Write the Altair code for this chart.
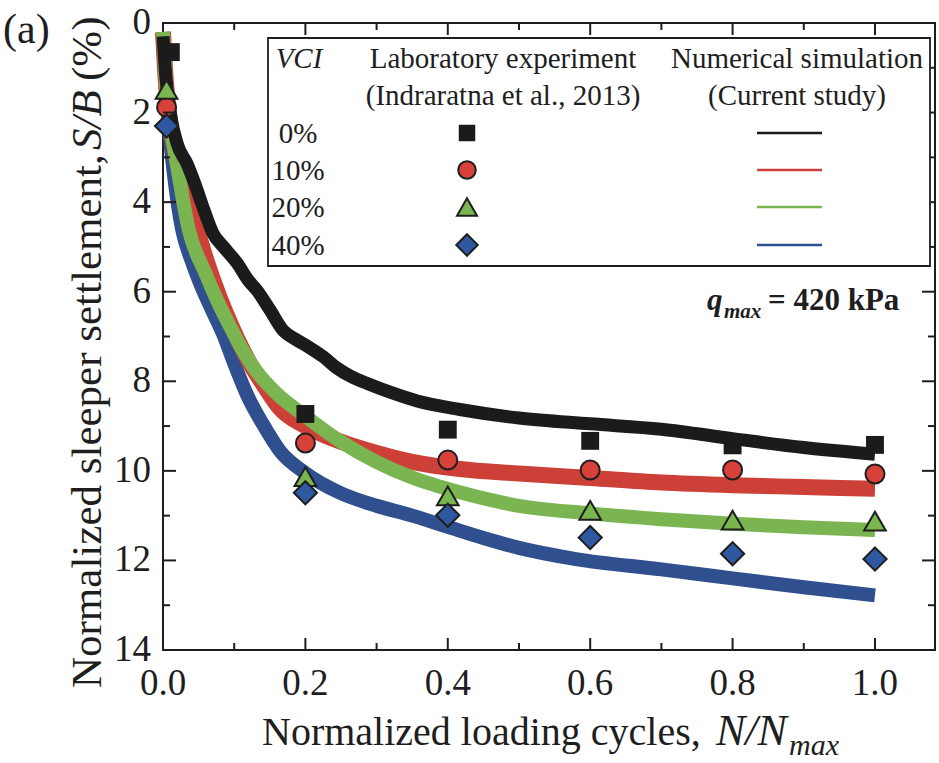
import altair as alt
import pandas as pd

FONT = "Liberation Serif, Times New Roman, serif"
INK = "#1e1e1e"

# ---------------- data ----------------
# Numerical simulation (Current study)
x_black = [0.0, 0.004, 0.01, 0.02, 0.034, 0.045, 0.057, 0.07, 0.085, 0.104, 0.12, 0.132, 0.15, 0.169,
           0.185, 0.206, 0.225, 0.244, 0.265, 0.287, 0.32, 0.357, 0.417, 0.5, 0.6, 0.7, 0.8, 0.9, 1.0]
y_black = [0.3, 1.2, 2.0, 2.7, 3.15, 3.6, 4.15, 4.69, 5.0, 5.36, 5.75, 5.97, 6.4, 6.87,
           7.05, 7.25, 7.45, 7.70, 7.9, 8.05, 8.25, 8.44, 8.63, 8.82, 8.95, 9.07, 9.28, 9.48, 9.63]

x_red = [0.0, 0.004, 0.01, 0.02, 0.035, 0.048, 0.06, 0.08, 0.1, 0.122, 0.14, 0.164, 0.2, 0.25,
         0.3, 0.35, 0.417, 0.5, 0.6, 0.7, 0.8, 0.9, 1.0]
y_red = [0.2, 1.3, 2.2, 3.1, 3.95, 4.62, 5.25, 6.15, 6.9, 7.6, 8.05, 8.6, 9.0, 9.35,
         9.6, 9.8, 9.96, 10.06, 10.16, 10.26, 10.32, 10.36, 10.4]

x_green = [0.0, 0.004, 0.01, 0.02, 0.036, 0.06, 0.076, 0.095, 0.112, 0.13, 0.16, 0.2, 0.25, 0.3,
           0.35, 0.417, 0.5, 0.6, 0.7, 0.8, 0.9, 1.0]
y_green = [0.2, 1.3, 2.2, 3.2, 4.6, 5.6, 6.19, 6.8, 7.31, 7.75, 8.28, 8.78, 9.35, 9.8,
           10.15, 10.48, 10.78, 10.95, 11.08, 11.18, 11.26, 11.32]

x_blue = [0.0, 0.004, 0.01, 0.02, 0.027, 0.04, 0.052, 0.07, 0.084, 0.1, 0.118, 0.14, 0.164, 0.2,
          0.25, 0.3, 0.35, 0.4, 0.45, 0.5, 0.58, 0.7, 0.8, 0.9, 1.0]
y_blue = [0.2, 1.5, 2.6, 3.95, 4.62, 5.3, 5.81, 6.45, 6.93, 7.6, 8.3, 8.95, 9.55, 10.05,
          10.5, 10.78, 11.0, 11.25, 11.5, 11.72, 11.97, 12.2, 12.4, 12.6, 12.78]

# Laboratory experiment (Indraratna et al., 2013)
x_exp_sq = [0.011, 0.2, 0.4, 0.6, 0.8, 1.0]
x_exp = [0.005, 0.2, 0.4, 0.6, 0.8, 1.0]
y_sq = [0.65, 8.73, 9.08, 9.33, 9.43, 9.42]
y_ci = [1.88, 9.38, 9.76, 9.98, 9.98, 10.07]
y_tr = [1.48, 10.13, 10.56, 10.88, 11.10, 11.12]
y_di = [2.30, 10.49, 10.99, 11.49, 11.85, 11.97]

vci_labels = ["0%", "10%", "20%", "40%"]
line_colors = ["#1b1b1b", "#cc4038", "#7ab552", "#2f4f8e"]
fill_colors = ["#1b1b1b", "#d8413a", "#79b64f", "#2f58a3"]
shapes = ["square", "circle", "triangle-up", "diamond"]
sizes = [320, 361, 470, 540]
widths = [13, 16, 14, 14]

x_tick_labels = [0.0, 0.2, 0.4, 0.6, 0.8, 1.0]
y_tick_labels = [0, 2, 4, 6, 8, 10, 12, 14]
x_major = [0.2, 0.4, 0.6, 0.8, 1.0]
x_minor = [0.1, 0.3, 0.5, 0.7, 0.9]
y_major = [2, 4, 6, 8, 10, 12]
y_minor = [1, 3, 5, 7, 9, 11, 13]

# ---------------- layout ----------------
W, H = 772, 627
xs = alt.Scale(domain=[0, 1.0843], nice=False, zero=False)
ys = alt.Scale(domain=[0, 14], reverse=True, nice=False, zero=False)

layers = []

# simulation curves
series_x = [x_black, x_red, x_green, x_blue]
series_y = [y_black, y_red, y_green, y_blue]
for i in [3, 1, 2, 0]:
    df = pd.DataFrame({"x": series_x[i], "y": series_y[i]})
    layers.append(
        alt.Chart(df).mark_line(color=line_colors[i], strokeWidth=widths[i], interpolate="monotone",
                                strokeCap="butt", strokeJoin="round")
        .encode(x=alt.X("x:Q", scale=xs, axis=None), y=alt.Y("y:Q", scale=ys, axis=None))
    )

# experiment markers
for i, yv in enumerate([y_sq, y_ci, y_tr, y_di]):
    xv = x_exp_sq if i == 0 else x_exp
    df = pd.DataFrame({"x": xv, "y": yv})
    layers.append(
        alt.Chart(df).mark_point(shape=shapes[i], size=sizes[i], filled=True, fill=fill_colors[i],
                                 stroke=INK, strokeWidth=2 if i else 0, opacity=1)
        .encode(x=alt.X("x:Q", scale=xs, axis=None), y=alt.Y("y:Q", scale=ys, axis=None))
    )

# tick labels
xl = pd.DataFrame({"v": x_tick_labels, "t": [f"{v:.1f}" for v in x_tick_labels]})
layers.append(
    alt.Chart(xl).mark_text(font=FONT, fontSize=37, color=INK, align="center", baseline="top")
    .encode(x=alt.X("v:Q", scale=xs, axis=None), y=alt.value(H + 16), text="t:N")
)
yl = pd.DataFrame({"v": y_tick_labels, "t": [str(v) for v in y_tick_labels]})
layers.append(
    alt.Chart(yl).mark_text(font=FONT, fontSize=37, color=INK, align="right", baseline="middle")
    .encode(y=alt.Y("v:Q", scale=ys, axis=None), x=alt.value(-12), text="t:N")
)

# inward ticks
def xticks(vals, length):
    df = pd.DataFrame({"v": vals})
    bot = alt.Chart(df).mark_rule(color=INK, strokeWidth=2).encode(
        x=alt.X("v:Q", scale=xs, axis=None), y=alt.value(H), y2=alt.value(H - length))
    top = alt.Chart(df).mark_rule(color=INK, strokeWidth=2).encode(
        x=alt.X("v:Q", scale=xs, axis=None), y=alt.value(0), y2=alt.value(length))
    return [bot, top]

def yticks(vals, length):
    df = pd.DataFrame({"v": vals})
    left = alt.Chart(df).mark_rule(color=INK, strokeWidth=2).encode(
        y=alt.Y("v:Q", scale=ys, axis=None), x=alt.value(0), x2=alt.value(length))
    right = alt.Chart(df).mark_rule(color=INK, strokeWidth=2).encode(
        y=alt.Y("v:Q", scale=ys, axis=None), x=alt.value(W), x2=alt.value(W - length))
    return [left, right]

layers += xticks(x_major, 12) + xticks(x_minor, 7) + yticks(y_major, 13) + yticks(y_minor, 7)


def txt(text, x, y, size, style="normal", weight="normal", align="left", baseline="alphabetic", angle=0):
    return alt.Chart(pd.DataFrame({"t": [text]})).mark_text(
        font=FONT, fontSize=size, fontStyle=style, fontWeight=weight, align=align,
        baseline=baseline, angle=angle, color=INK
    ).encode(x=alt.value(x), y=alt.value(y), text="t:N")


# legend box
layers.append(
    alt.Chart(pd.DataFrame({"a": [0]})).mark_rect(fill="white", stroke=INK, strokeWidth=1.8).encode(
        x=alt.value(105), x2=alt.value(767), y=alt.value(15), y2=alt.value(243))
)
LF = 29
layers.append(txt("VCI", 136, 36, LF, style="italic", align="center", baseline="middle"))
layers.append(txt("Laboratory experiment", 340, 36, LF, align="center", baseline="middle"))
layers.append(txt("(Indraratna et al., 2013)", 340, 73, LF, align="center", baseline="middle"))
layers.append(txt("Numerical simulation", 634, 36, LF, align="center", baseline="middle"))
layers.append(txt("(Current study)", 634, 73, LF, align="center", baseline="middle"))
row_y = [110, 147, 184, 222]
for i, lab in enumerate(vci_labels):
    layers.append(txt(lab, 135, row_y[i] + 1, LF, align="center", baseline="middle"))
    layers.append(
        alt.Chart(pd.DataFrame({"a": [0]})).mark_point(
            shape=shapes[i], size=sizes[i] * 0.85, filled=True, fill=fill_colors[i], stroke=INK,
            strokeWidth=2 if i else 0, opacity=1
        ).encode(x=alt.value(304), y=alt.value(row_y[i]))
    )
    layers.append(
        alt.Chart(pd.DataFrame({"a": [0]})).mark_rule(color=line_colors[i], strokeWidth=2.5).encode(
            x=alt.value(594), x2=alt.value(659), y=alt.value(row_y[i]))
    )

# q_max annotation
layers.append(txt("q", 544, 287, 31, style="italic", weight="bold"))
layers.append(txt("max", 561, 295, 21, style="italic", weight="bold"))
layers.append(txt("= 420 kPa", 605, 287, 31, weight="bold"))

# axis titles
layers.append(txt("Normalized loading cycles,", 99, 722, 40))
layers.append(txt("N/N", 553, 722, 44, style="italic"))
layers.append(txt("max", 626, 732, 30, style="italic"))

# y title rotated (reads bottom to top)
YX = -62
layers.append(txt("Normalized sleeper settlement,", YX, 665, 43, align="left", angle=270))
layers.append(txt("S/B", YX, 127, 43, style="italic", align="left", angle=270))
layers.append(txt("(%)", YX, 58, 43, align="left", angle=270))

# panel label
layers.append(txt("(a)", -160, 20, 42))

chart = alt.layer(*layers).properties(
    width=W, height=H,
    autosize=alt.AutoSizeParams(type="none"),
    padding={"left": 163, "top": 23, "right": 4, "bottom": 113},
    background="white",
).configure_view(stroke=INK, strokeWidth=2)

chart.save("out.html", embed_options={"renderer": "svg", "actions": False})
